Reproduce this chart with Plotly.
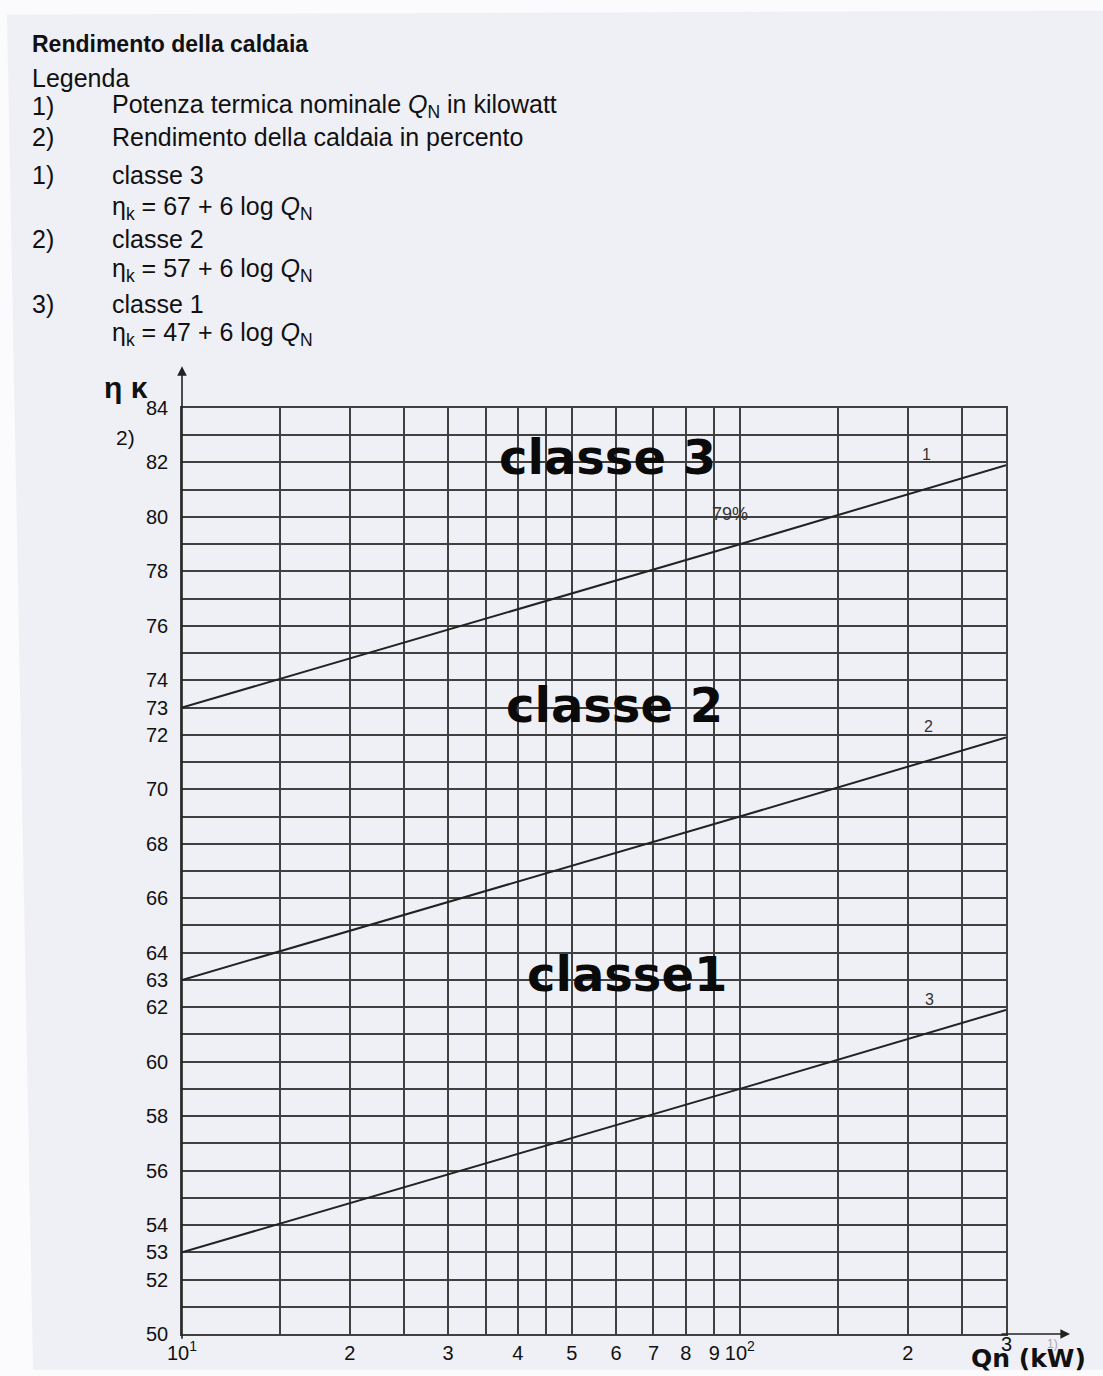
import math
import plotly.graph_objects as go

# potenza termica nominale (kW) e rendimento
q_kw = [10, 100, 300]
classe3 = [73, 79, 81.9]
classe2 = [63, 69, 71.9]
classe1 = [53, 59, 61.9]

x_grid = [10, 15, 20, 25, 30, 35, 40, 45, 50, 60, 70, 80, 90, 100, 150, 200, 250, 300]
x_text = ['10<sup>1</sup>', '', '2', '', '3', '', '4', '', '5', '6', '7', '8', '9', '10<sup>2</sup>',
          '', '2', '', '']
y_grid = list(range(50, 85))
y_labels = [50, 52, 53, 54, 56, 58, 60, 62, 63, 64, 66, 68, 70, 72, 73, 74, 76, 78, 80, 82, 84]
y_text = [str(v) if v in y_labels else '' for v in y_grid]

W, H = 1103, 1376
L, R, T, B = 182, 1006, 408, 1340
BG = '#efeff6'
INK = '#222222'


def px(x):
    return (x - L) / (R - L)


def py(y):
    return (B - y) / (B - T)


fig = go.Figure()
for ys in [classe3, classe2, classe1]:
    fig.add_trace(go.Scatter(x=q_kw, y=ys, mode='lines', line=dict(color=INK, width=2),
                             showlegend=False, hoverinfo='skip'))

font = dict(family='Liberation Sans, Arial, sans-serif', size=21, color='#111111')
ann = []


def txt(x, y, s, size=25, bold=False, color='#111111', anchor='left', ref='px', family=None):
    f = dict(font)
    f['size'] = size
    f['color'] = color
    if family:
        f['family'] = family
    if bold:
        s = '<b>' + s + '</b>'
    if ref == 'px':
        ann.append(dict(x=px(x), y=py(y), xref='paper', yref='paper', text=s, showarrow=False,
                        xanchor=anchor, yanchor='middle', font=f))
    else:
        # asse x logaritmico: le annotazioni vanno in log10
        ann.append(dict(x=math.log10(x), y=y, xref='x', yref='y', text=s, showarrow=False,
                        xanchor=anchor, yanchor='middle', font=f))


QN = '<i>Q</i><sub>N</sub>'
txt(30, 42, 'Rendimento della caldaia', bold=True, size=23)
txt(30, 76, 'Legenda')
rows = [
    (104, '1)', 'Potenza termica nominale ' + QN + ' in kilowatt'),
    (135, '2)', 'Rendimento della caldaia in percento'),
    (173, '1)', 'classe 3'),
    (207, '', 'η<sub>k</sub> = 67 + 6 log ' + QN),
    (238, '2)', 'classe 2'),
    (269, '', 'η<sub>k</sub> = 57 + 6 log ' + QN),
    (303, '3)', 'classe 1'),
    (334, '', 'η<sub>k</sub> = 47 + 6 log ' + QN),
]
for y, n, s in rows:
    if n:
        txt(30, y, n)
    txt(110, y, s)

# etichette asse
txt(126, 387, 'η κ', size=30, bold=True, anchor='center')
txt(125, 438, '2)', size=21, anchor='center')
txt(1006, 1350, '3', size=20, anchor='center')
txt(1028, 1365, 'Qn (kW)', size=25, bold=True, anchor='center', family='DejaVu Sans, sans-serif')
txt(1052, 1350, '1)', size=12, color='#aaaaaa', anchor='center')

# classi sul grafico
big = 'DejaVu Sans, sans-serif'
for x, y, s in [(57.8, 82.2, 'classe 3'), (59.6, 73.1, 'classe 2'), (62.8, 63.2, 'classe1')]:
    txt(x, y, s, size=48, bold=True, anchor='center', ref='data', family=big, color='#0a0a0a')
txt(216, 82.3, '1', size=16, anchor='center', ref='data', color='#333333')
txt(218, 72.3, '2', size=16, anchor='center', ref='data', color='#333333')
txt(219, 62.3, '3', size=16, anchor='center', ref='data', color='#333333')
txt(96, 80.1, '79%', size=18, anchor='center', ref='data', color='#333333')

# frecce degli assi
ann.append(dict(x=px(L), y=py(366), xref='paper', yref='paper', ax=0, ay=974,
                axref='pixel', ayref='pixel', showarrow=True, arrowhead=2, arrowsize=1.2,
                arrowwidth=1.6, arrowcolor=INK, text=''))
ann.append(dict(x=px(1070), y=py(B), xref='paper', yref='paper', ax=-70, ay=0,
                axref='pixel', ayref='pixel', showarrow=True, arrowhead=2, arrowsize=1.2,
                arrowwidth=1.6, arrowcolor=INK, text=''))

# bordo della pagina scansionata
page = 'M {} {} L {} {} L {} {} L {} {} Z'.format(px(7), py(12), px(1103), py(8),
                                                  px(1103), py(1376), px(33), py(1376))
fig.add_shape(type='path', path=page, xref='paper', yref='paper', fillcolor=BG,
              line=dict(width=0), layer='below')

axis_common = dict(showgrid=True, gridcolor='#404040', gridwidth=1.6, showline=True, mirror=True,
                   linecolor='#404040', linewidth=1.6, zeroline=False, ticks='',
                   tickfont=dict(family='Liberation Sans, Arial, sans-serif', size=20, color='#111111'))

fig.update_xaxes(type='log', range=[1, 2.4771], tickmode='array', tickvals=x_grid, ticktext=x_text,
                 **axis_common)
fig.update_yaxes(range=[50, 84], tickmode='array', tickvals=y_grid, ticktext=y_text,
                 ticklabelstandoff=8, **axis_common)

fig.update_layout(width=W, height=H, paper_bgcolor='#fbfbfd', plot_bgcolor=BG,
                  margin=dict(l=L, r=W - R, t=T, b=H - B), annotations=ann, showlegend=False)

fig.write_html("out.html", config={'displayModeBar': False},
               post_script="document.body.style.margin='0';")
